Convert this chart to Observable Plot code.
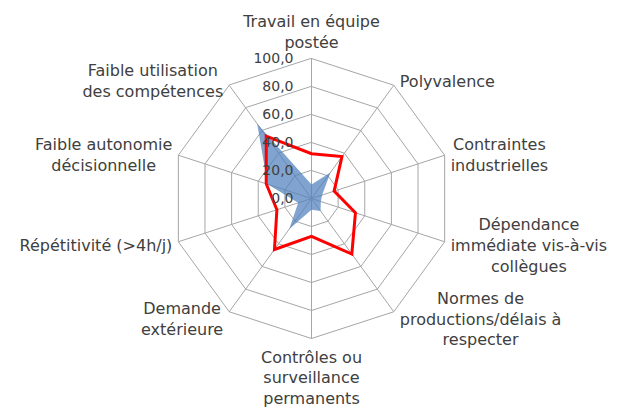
<!DOCTYPE html>
<html><head><meta charset="utf-8">
<script src="https://cdn.jsdelivr.net/npm/d3@7"></script>
<script src="https://cdn.jsdelivr.net/npm/@observablehq/plot@0.6"></script>
<style>body{margin:0;background:#fff} svg{display:block}</style>
</head><body><div id="chart"></div>
<script>
const categories = [
  "Travail en équipe\npostée",
  "Polyvalence",
  "Contraintes\nindustrielles",
  "Dépendance\nimmédiate vis-à-vis\ncollègues",
  "Normes de\nproductions/délais à\nrespecter",
  "Contrôles ou\nsurveillance\npermanents",
  "Demande\nextérieure",
  "Répétitivité (>4h/j)",
  "Faible autonomie\ndécisionnelle",
  "Faible utilisation\ndes compétences"
];
const seriesRed  = [32, 37, 17, 33, 49, 27, 45, 26, 34, 55];
const seriesBlue = [10, 23, 8, 7, 11, 8, 27, 10, 33, 66];
const ringTicks = [0, 20, 40, 60, 80, 100];
const tickLabels = ["0,0", "20,0", "40,0", "60,0", "80,0", "100,0"];

const W = 618, H = 408, cx = 311, cy = 198, R = 140, k = R / 100;
const FONT = "'DejaVu Sans', Verdana, sans-serif";
const n = categories.length;
const ang = i => 2 * Math.PI * i / n;
const pt = (i, v) => ({x: v * Math.sin(ang(i)), y: v * Math.cos(ang(i))});

const rings = ringTicks.filter(t => t > 0).flatMap(t => categories.map((c, i) => ({...pt(i, t), ring: t})));
const spokes = categories.map((c, i) => ({x1: 0, y1: 0, x2: pt(i, 100).x, y2: pt(i, 100).y}));
const bluePts = seriesBlue.map((v, i) => pt(i, v));
const redPts = seriesRed.map((v, i) => pt(i, v));

const ctx = document.createElement("canvas").getContext("2d");
ctx.font = "16px " + FONT;
const LH = 1.3, FS = 16;
const labels = categories.map((c, i) => {
  const lines = c.split("\n");
  const w = Math.max(...lines.map(l => ctx.measureText(l).width));
  const h = lines.length * LH * FS;
  const s = Math.sin(ang(i)), co = Math.cos(ang(i));
  const v = pt(i, 100);
  let x, y;
  if (Math.abs(s) < 0.01) {
    x = 0;
    y = co > 0 ? 100 + (7 + h / 2) / k : -(100 + (7 + h / 2) / k);
  } else {
    x = v.x + Math.sign(s) * (6 + w / 2) / k;
    y = v.y - (-co * 7 + 0.5) / k;
  }
  return {x, y, text: c};
});

const chart = Plot.plot({
  width: W, height: H, margin: 0,
  x: {domain: [-cx / k, (W - cx) / k], axis: null},
  y: {domain: [-(H - cy) / k, cy / k], axis: null},
  style: {fontFamily: FONT, background: "#fff"},
  marks: [
    Plot.line(rings, {x: "x", y: "y", z: "ring", curve: "linear-closed", stroke: "#a6a6a6", strokeWidth: 1}),
    Plot.link(spokes, {x1: "x1", y1: "y1", x2: "x2", y2: "y2", stroke: "#a6a6a6", strokeWidth: 1}),
    Plot.line(bluePts, {x: "x", y: "y", curve: "linear-closed", fill: "#4F81BD", fillOpacity: 0.72, stroke: "none"}),
    Plot.line(redPts, {x: "x", y: "y", curve: "linear-closed", stroke: "#FF0000", strokeWidth: 3, strokeLinejoin: "miter", strokeMiterlimit: 4}),
    Plot.text(ringTicks, {x: 0, y: d => d, text: (d, i) => tickLabels[i], textAnchor: "end", dx: -18, fontSize: 14, fill: "#404040"}),
    Plot.text(labels, {x: "x", y: "y", text: "text", textAnchor: "middle", lineAnchor: "middle", lineHeight: LH, fontSize: FS, fill: "#404040"})
  ]
});
document.getElementById("chart").appendChild(chart);
</script>
</body></html>
